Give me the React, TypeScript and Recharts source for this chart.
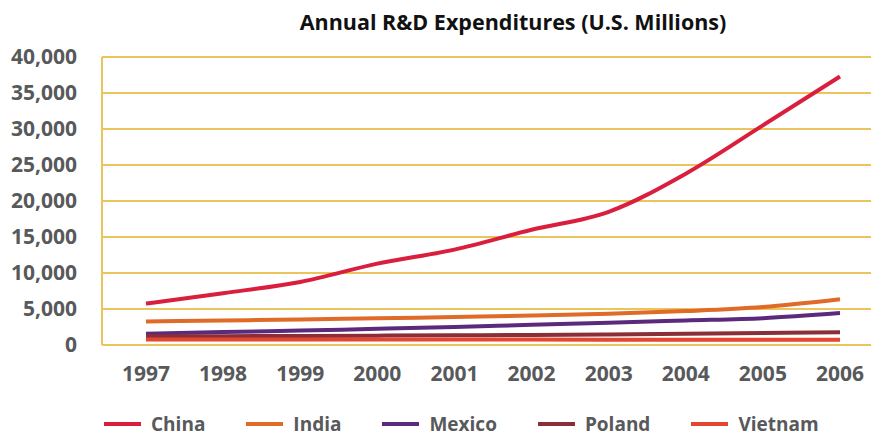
import React from "react";
import {
  CartesianGrid,
  Legend,
  Line,
  LineChart,
  XAxis,
  YAxis,
} from "recharts";

const years = ["1997", "1998", "1999", "2000", "2001", "2002", "2003", "2004", "2005", "2006"];

const china = [5750, 7200, 8750, 11300, 13250, 16000, 18500, 23800, 30500, 37300];
const india = [3270, 3400, 3550, 3700, 3900, 4100, 4340, 4710, 5270, 6340];
const mexico = [1560, 1800, 2000, 2250, 2500, 2810, 3090, 3410, 3730, 4430];
const poland = [1200, 1230, 1260, 1300, 1350, 1400, 1470, 1550, 1650, 1780];
const vietnam = [770, 770, 760, 760, 750, 750, 740, 740, 730, 730];

const yTicks = [0, 5000, 10000, 15000, 20000, 25000, 30000, 35000, 40000];

const series = [
  { key: "China", color: "#D91F3D", values: china },
  { key: "India", color: "#E06A28", values: india },
  { key: "Mexico", color: "#5B2A7C", values: mexico },
  { key: "Poland", color: "#8A2F38", values: poland },
  { key: "Vietnam", color: "#E3472F", values: vietnam },
];

const data = years.map((year, i) => {
  const row: Record<string, string | number> = { year };
  series.forEach((s) => {
    row[s.key] = s.values[i];
  });
  return row;
});

const FONT = "'Open Sans', 'Noto Sans', sans-serif";
const GRAY = "#58595B";
const GRID = "#EBC45C";

function LegendRow() {
  return (
    <div style={{ display: "flex", alignItems: "center", paddingLeft: 104, height: 26 }}>
      {series.map((s) => (
        <div key={s.key} style={{ display: "flex", alignItems: "center", marginRight: 41 }}>
          <div style={{ width: 37, height: 4, background: s.color, marginRight: 10 }} />
          <span style={{ fontFamily: FONT, fontWeight: 700, fontSize: 19, lineHeight: "26px", color: GRAY }}>
            {s.key}
          </span>
        </div>
      ))}
    </div>
  );
}

export default function App() {
  return (
    <div style={{ position: "absolute", left: 0, top: 0, width: 871, height: 437, background: "#fff" }}>
      <div
        style={{
          position: "absolute",
          left: 0,
          width: 1026,
          top: 7,
          textAlign: "center",
          fontFamily: FONT,
          fontWeight: 700,
          fontSize: 21.5,
          color: "#111",
        }}
      >
        Annual R&amp;D Expenditures (U.S. Millions)
      </div>
      <LineChart width={871} height={437} data={data} margin={{ top: 57, right: 0, left: 0, bottom: 16 }}>
        <CartesianGrid vertical={false} stroke={GRID} strokeWidth={2} />
        <XAxis
          dataKey="year"
          padding={{ left: 44, right: 31 }}
          axisLine={{ stroke: GRID, strokeWidth: 2 }}
          tickLine={false}
          tickSize={0}
          tickMargin={21}
          height={50}
          tick={{ fill: GRAY, fontFamily: FONT, fontWeight: 700, fontSize: 21 }}
        />
        <YAxis
          width={102}
          domain={[0, 40000]}
          ticks={yTicks}
          interval={0}
          axisLine={{ stroke: GRID, strokeWidth: 2 }}
          tickLine={false}
          tickSize={0}
          tickMargin={25}
          tickFormatter={(v) => Number(v).toLocaleString("en-US")}
          tick={{ fill: GRAY, fontFamily: FONT, fontWeight: 700, fontSize: 21 }}
        />
        <Legend verticalAlign="bottom" wrapperStyle={{ bottom: 0 }} content={() => <LegendRow />} />
        {series.map((s) => (
          <Line
            key={s.key}
            dataKey={s.key}
            type="monotone"
            stroke={s.color}
            strokeWidth={4}
            dot={false}
            isAnimationActive={false}
          />
        ))}
      </LineChart>
    </div>
  );
}
